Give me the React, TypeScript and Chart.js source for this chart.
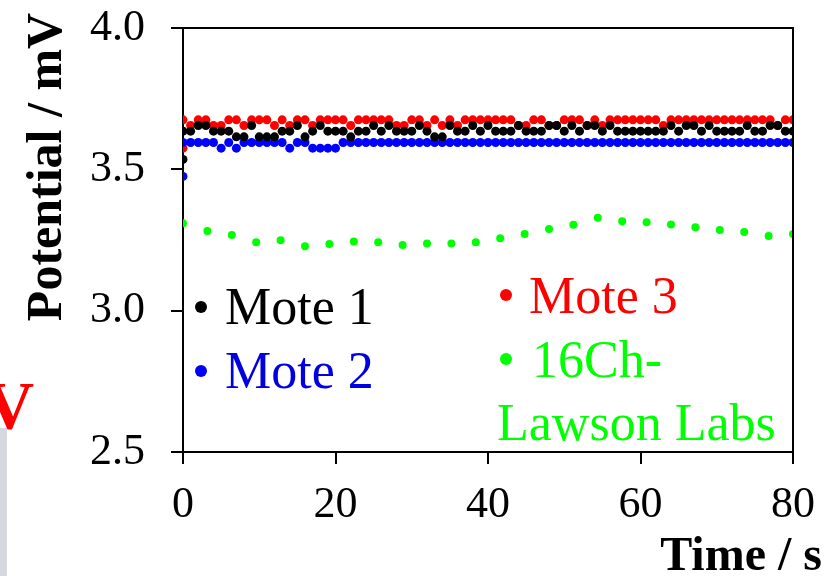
import React, { useEffect, useRef } from "react";
import { Chart, registerables } from "chart.js";

Chart.register(...registerables);

// ---- data ----
const MOTE_TIME = [
  0, 1, 2, 3, 4, 5, 6, 7, 8, 9, 10, 11, 12, 13, 14, 15, 16, 17, 18, 19, 20,
  21, 22, 23, 24, 25, 26, 27, 28, 29, 30, 31, 32, 33, 34, 35, 36, 37, 38, 39, 40,
  41, 42, 43, 44, 45, 46, 47, 48, 49, 50, 51, 52, 53, 54, 55, 56, 57, 58, 59, 60,
  61, 62, 63, 64, 65, 66, 67, 68, 69, 70, 71, 72, 73, 74, 75, 76, 77, 78, 79, 80,
];

// first (start-up) reading at t = 0 for each mote
const START_TIME = 0;
const MOTE1_START = 3.535;
const MOTE2_START = 3.475;
const MOTE3_START = 3.575;

const MOTE1 = [
  3.635, 3.635, 3.655, 3.655, 3.635, 3.635, 3.635, 3.615, 3.615, 3.655,
  3.615, 3.615, 3.615, 3.635, 3.635, 3.655, 3.615, 3.635, 3.655, 3.635,
  3.635, 3.635, 3.615, 3.635, 3.635, 3.655, 3.635, 3.655, 3.635, 3.635,
  3.635, 3.655, 3.635, 3.615, 3.615, 3.655, 3.635, 3.635, 3.655, 3.635,
  3.655, 3.635, 3.635, 3.635, 3.655, 3.635, 3.635, 3.635, 3.655, 3.655,
  3.635, 3.655, 3.635, 3.655, 3.655, 3.635, 3.655, 3.635, 3.635, 3.635,
  3.635, 3.635, 3.635, 3.635, 3.655, 3.635, 3.655, 3.655, 3.635, 3.655,
  3.635, 3.635, 3.635, 3.635, 3.655, 3.635, 3.635, 3.655, 3.655, 3.635,
  3.635,
];

const MOTE2 = [
  3.595, 3.595, 3.595, 3.595, 3.595, 3.575, 3.595, 3.575, 3.595, 3.595,
  3.595, 3.595, 3.595, 3.595, 3.575, 3.595, 3.595, 3.575, 3.575, 3.575,
  3.575, 3.595, 3.595, 3.595, 3.595, 3.595, 3.595, 3.595, 3.595, 3.595,
  3.595, 3.595, 3.595, 3.595, 3.595, 3.595, 3.595, 3.595, 3.595, 3.595,
  3.595, 3.595, 3.595, 3.595, 3.595, 3.595, 3.595, 3.595, 3.595, 3.595,
  3.595, 3.595, 3.595, 3.595, 3.595, 3.595, 3.595, 3.595, 3.595, 3.595,
  3.595, 3.595, 3.595, 3.595, 3.595, 3.595, 3.595, 3.595, 3.595, 3.595,
  3.595, 3.595, 3.595, 3.595, 3.595, 3.595, 3.595, 3.595, 3.595, 3.595,
  3.595,
];

const MOTE3 = [
  3.675, 3.655, 3.675, 3.675, 3.655, 3.655, 3.675, 3.675, 3.655, 3.675,
  3.675, 3.675, 3.655, 3.675, 3.655, 3.675, 3.675, 3.655, 3.675, 3.675,
  3.675, 3.675, 3.655, 3.675, 3.675, 3.675, 3.675, 3.675, 3.655, 3.655,
  3.675, 3.675, 3.655, 3.675, 3.655, 3.675, 3.655, 3.675, 3.675, 3.675,
  3.675, 3.675, 3.675, 3.675, 3.655, 3.655, 3.675, 3.675, 3.655, 3.655,
  3.675, 3.675, 3.675, 3.655, 3.675, 3.655, 3.675, 3.675, 3.675, 3.675,
  3.675, 3.675, 3.675, 3.655, 3.675, 3.675, 3.675, 3.675, 3.675, 3.675,
  3.675, 3.675, 3.675, 3.675, 3.675, 3.675, 3.675, 3.675, 3.655, 3.675,
  3.675,
];

const LAWSON_TIME = [
  0, 3.2, 6.4, 9.6, 12.8, 16, 19.2, 22.4, 25.6, 28.8, 32, 35.2, 38.4,
  41.6, 44.8, 48, 51.2, 54.4, 57.6, 60.8, 64, 67.2, 70.4, 73.6, 76.8, 80,
];
const LAWSON = [
  3.309, 3.282, 3.268, 3.242, 3.249, 3.228, 3.236, 3.245, 3.242, 3.232,
  3.238, 3.238, 3.242, 3.256, 3.271, 3.289, 3.304, 3.329, 3.316, 3.313,
  3.305, 3.295, 3.285, 3.278, 3.264, 3.271,
];

const X_TICKS = [0, 20, 40, 60, 80];
const Y_TICKS = [2.5, 3.0, 3.5, 4.0];

const SERIES_NAMES = ["Mote 1", "Mote 2", "Mote 3", "16Ch-Lawson Labs"];
const SERIES_COLORS = ["#000000", "#0000ff", "#ff0000", "#00ff00"];

const SERIF = "'Liberation Serif', 'Times New Roman', serif";

function moteData(start: number, vals: number[]) {
  return [
    { x: START_TIME, y: start },
    ...MOTE_TIME.map((t, i) => ({ x: t, y: vals[i] })),
  ];
}

function bullet(ctx: CanvasRenderingContext2D, x: number, y: number, color: string) {
  ctx.fillStyle = color;
  ctx.beginPath();
  ctx.arc(x, y, 6, 0, Math.PI * 2);
  ctx.fill();
}

const decorPlugin = {
  id: "decor",
  afterDraw(chart: any) {
    const ctx = chart.ctx as CanvasRenderingContext2D;
    const a = chart.chartArea;
    ctx.save();
    // frame: top and right
    ctx.strokeStyle = "#000";
    ctx.lineWidth = 2;
    ctx.beginPath();
    ctx.moveTo(a.left, a.top);
    ctx.lineTo(a.right, a.top);
    ctx.lineTo(a.right, a.bottom);
    ctx.stroke();

    // legend
    ctx.textAlign = "left";
    ctx.textBaseline = "alphabetic";
    ctx.font = `52px ${SERIF}`;
    bullet(ctx, 201, 307, SERIES_COLORS[0]);
    ctx.fillText(SERIES_NAMES[0], 225, 324);
    bullet(ctx, 201, 371, SERIES_COLORS[1]);
    ctx.fillStyle = "#0000e0";
    ctx.fillText(SERIES_NAMES[1], 225, 388);
    bullet(ctx, 506, 295, SERIES_COLORS[2]);
    ctx.fillText(SERIES_NAMES[2], 529, 313);
    bullet(ctx, 506, 359, SERIES_COLORS[3]);
    ctx.fillText("16Ch-", 532, 377);
    ctx.fillText("Lawson Labs", 497, 440);

    // axis titles
    ctx.fillStyle = "#000";
    ctx.font = `bold 48px ${SERIF}`;
    ctx.textAlign = "right";
    ctx.fillText("Time / s", 822, 570);
    ctx.save();
    ctx.translate(61, 167);
    ctx.rotate(-Math.PI / 2);
    ctx.textAlign = "center";
    ctx.font = `bold 50px ${SERIF}`;
    ctx.fillText("Potential / mV", 0, 0);
    ctx.restore();

    // cropped neighbour-panel remnants
    ctx.fillStyle = "#d5d8dc";
    ctx.fillRect(0, 428, 7, 148);
    ctx.fillStyle = "#ff0000";
    ctx.font = `bold 68px ${SERIF}`;
    ctx.textAlign = "right";
    ctx.fillText("V", 34, 428);
    ctx.restore();
  },
};

function zeroPad(s: any) {
  s.paddingTop = 0;
  s.paddingBottom = 0;
  s.paddingLeft = 0;
  s.paddingRight = 0;
}

export default function App() {
  const ref = useRef<HTMLCanvasElement | null>(null);

  useEffect(() => {
    document.body.style.margin = "0";
    const canvas = ref.current;
    if (!canvas) return;
    const chart = new Chart(canvas, {
      type: "scatter",
      data: {
        datasets: [
          {
            label: SERIES_NAMES[0],
            data: moteData(MOTE1_START, MOTE1),
            backgroundColor: SERIES_COLORS[0],
            borderWidth: 0,
            pointRadius: 4.5,
          },
          {
            label: SERIES_NAMES[1],
            data: moteData(MOTE2_START, MOTE2),
            backgroundColor: SERIES_COLORS[1],
            borderWidth: 0,
            pointRadius: 4.5,
          },
          {
            label: SERIES_NAMES[2],
            data: moteData(MOTE3_START, MOTE3),
            backgroundColor: SERIES_COLORS[2],
            borderWidth: 0,
            pointRadius: 4.5,
          },
          {
            label: SERIES_NAMES[3],
            data: LAWSON_TIME.map((t, i) => ({ x: t, y: LAWSON[i] })),
            backgroundColor: SERIES_COLORS[3],
            borderWidth: 0,
            pointRadius: 4,
          },
        ],
      },
      options: {
        responsive: false,
        animation: false,
        devicePixelRatio: 1,
        layout: { padding: { left: 0, right: 39, top: 28, bottom: 0 } },
        plugins: {
          legend: { display: false },
          tooltip: { enabled: false },
        },
        scales: {
          x: {
            type: "linear",
            min: 0,
            max: 80,
            afterFit: (s: any) => {
              s.height = 124;
              zeroPad(s);
            },
            afterBuildTicks: (s: any) => {
              s.ticks = X_TICKS.map((v) => ({ value: v }));
            },
            ticks: {
              color: "#000",
              font: { family: SERIF, size: 44 },
              padding: 15,
              maxRotation: 0,
              callback: (v: any) => String(v),
            },
            grid: {
              drawOnChartArea: false,
              drawTicks: true,
              tickLength: 12,
              color: "#000",
              lineWidth: 2,
            },
            border: { display: true, color: "#000", width: 2 },
          },
          y: {
            type: "linear",
            min: 2.5,
            max: 4.0,
            afterFit: (s: any) => {
              s.width = 183;
              zeroPad(s);
            },
            afterBuildTicks: (s: any) => {
              s.ticks = Y_TICKS.map((v) => ({ value: v }));
            },
            ticks: {
              color: "#000",
              font: { family: SERIF, size: 44 },
              padding: 26,
              callback: (v: any) => Number(v).toFixed(1),
            },
            grid: {
              drawOnChartArea: false,
              drawTicks: true,
              tickLength: 12,
              color: "#000",
              lineWidth: 2,
            },
            border: { display: true, color: "#000", width: 2 },
          },
        },
      },
      plugins: [decorPlugin],
    });
    return () => chart.destroy();
  }, []);

  return (
    <div style={{ position: "absolute", left: 0, top: 0, width: 832, height: 576, background: "#fff" }}>
      <canvas ref={ref} width={832} height={576} style={{ display: "block", width: 832, height: 576 }} />
    </div>
  );
}
